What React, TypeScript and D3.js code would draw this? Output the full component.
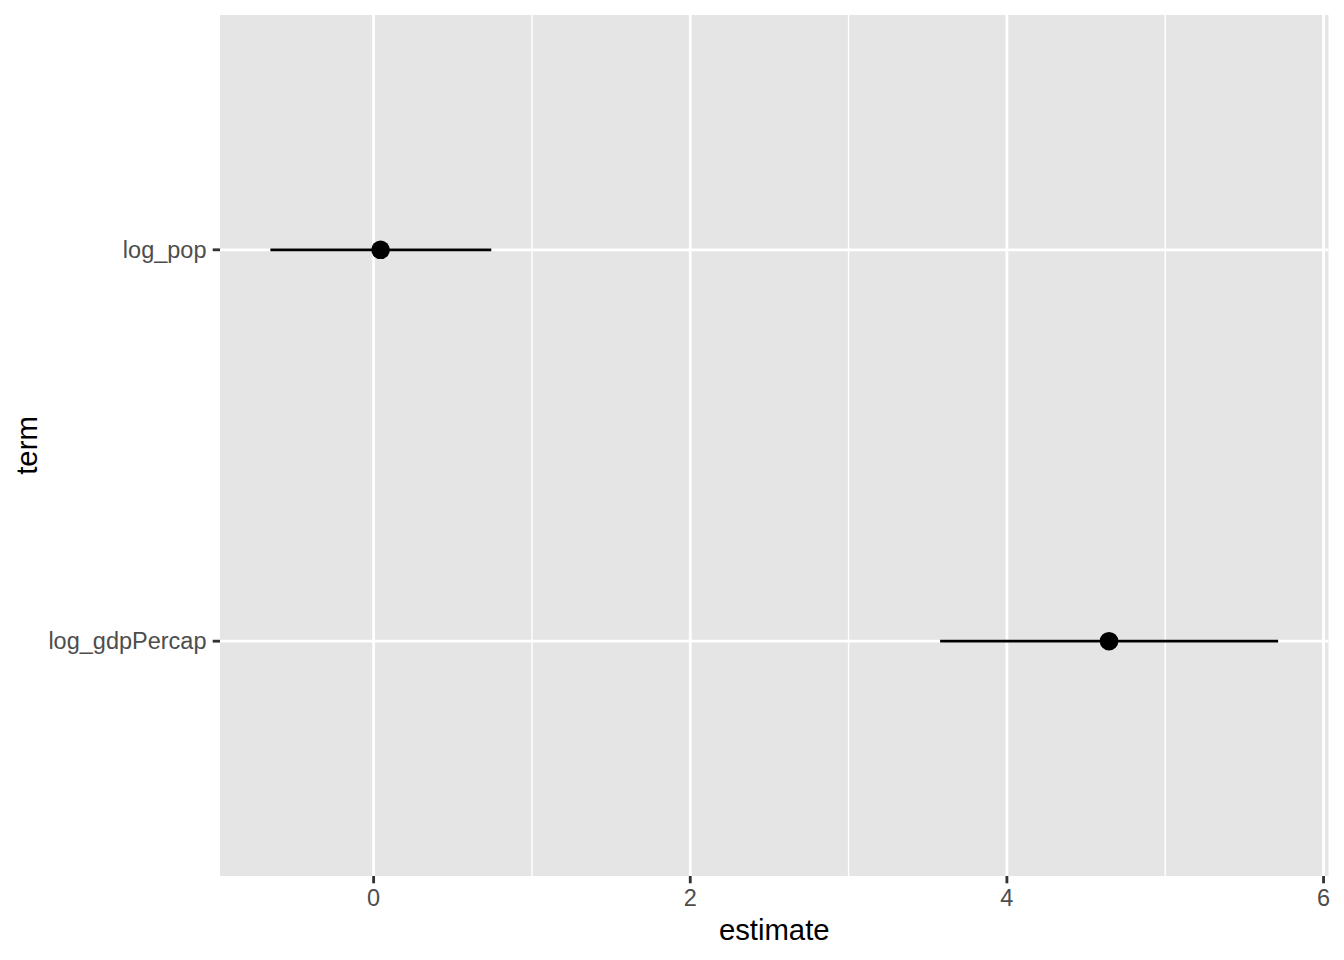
import React from "react";
import * as d3 from "d3";

const terms = ["log_gdpPercap", "log_pop"];
const estimates = [4.645, 0.044];
const confLow = [3.578, -0.652];
const confHigh = [5.713, 0.743];
const xTicks = [0, 2, 4, 6];
const xMinor = [1, 3, 5];

const W = 1344;
const H = 960;
const panel = { left: 220, right: 1328.5, top: 15, bottom: 876 };
const FONT = "'Liberation Sans', Arial, Helvetica, sans-serif";

export default function App() {
  const lo = d3.min(confLow)!;
  const hi = d3.max(confHigh)!;
  const pad = (hi - lo) * 0.05;
  const x = d3.scaleLinear().domain([lo - pad, hi + pad]).range([panel.left, panel.right]);
  // discrete y: positions 1..n with 0.6 expansion; level 1 at bottom
  const y = d3
    .scaleLinear()
    .domain([0.4, terms.length + 0.6])
    .range([panel.bottom, panel.top]);
  const yPos = (i: number) => y(i + 1);

  const tickLen = 7.3;
  return (
    <div style={{ position: "absolute", left: 0, top: 0 }}>
      <svg width={W} height={H} style={{ display: "block", background: "#fff" }}>
        <rect
          x={panel.left}
          y={panel.top}
          width={panel.right - panel.left}
          height={panel.bottom - panel.top}
          fill="#E5E5E5"
        />
        {xMinor
          .filter((v) => x(v) >= panel.left && x(v) <= panel.right)
          .map((v) => (
            <line key={"mn" + v} x1={x(v)} x2={x(v)} y1={panel.top} y2={panel.bottom} stroke="#fff" strokeWidth={1.42} />
          ))}
        {xTicks.map((v) => (
          <line key={"mj" + v} x1={x(v)} x2={x(v)} y1={panel.top} y2={panel.bottom} stroke="#fff" strokeWidth={2.84} />
        ))}
        {terms.map((t, i) => (
          <line key={"hy" + t} x1={panel.left} x2={panel.right} y1={yPos(i)} y2={yPos(i)} stroke="#fff" strokeWidth={2.84} />
        ))}
        {/* point ranges */}
        {terms.map((t, i) => (
          <g key={"pr" + t}>
            <line x1={x(confLow[i])} x2={x(confHigh[i])} y1={yPos(i)} y2={yPos(i)} stroke="#000" strokeWidth={2.84} />
            <circle cx={x(estimates[i])} cy={yPos(i)} r={9.3} fill="#000" />
          </g>
        ))}
        {/* x axis */}
        {xTicks.map((v) => (
          <g key={"xt" + v}>
            <line x1={x(v)} x2={x(v)} y1={panel.bottom} y2={panel.bottom + tickLen} stroke="#333333" strokeWidth={2.84} />
            <text x={x(v)} y={906} textAnchor="middle" fontFamily={FONT} fontSize={23.5} fill="#4D4D4D">
              {v}
            </text>
          </g>
        ))}
        {/* y axis */}
        {terms.map((t, i) => (
          <g key={"yt" + t}>
            <line x1={panel.left - tickLen} x2={panel.left} y1={yPos(i)} y2={yPos(i)} stroke="#333333" strokeWidth={2.84} />
            <text x={206.5} y={yPos(i)} dy="0.35em" textAnchor="end" fontFamily={FONT} fontSize={23.5} fill="#4D4D4D">
              {t}
            </text>
          </g>
        ))}
        <text x={(panel.left + panel.right) / 2} y={940} textAnchor="middle" fontFamily={FONT} fontSize={29.3} fill="#000">
          estimate
        </text>
        <text
          transform={`translate(37,${(panel.top + panel.bottom) / 2}) rotate(-90)`}
          textAnchor="middle"
          fontFamily={FONT}
          fontSize={29.3}
          fill="#000"
        >
          term
        </text>
      </svg>
    </div>
  );
}
